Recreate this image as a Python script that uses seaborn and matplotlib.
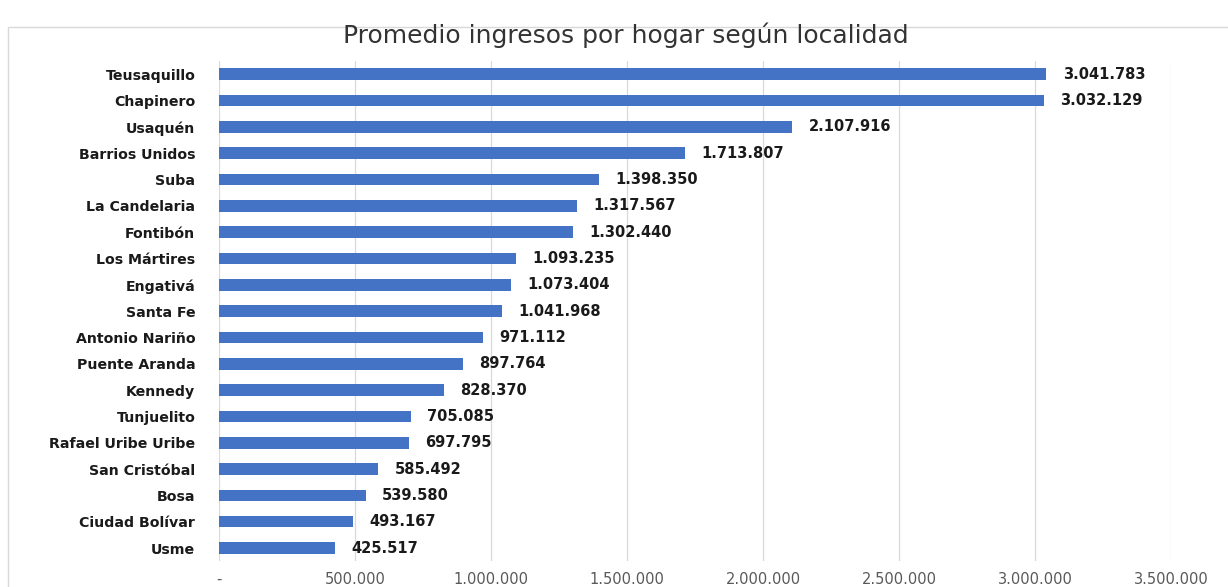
import matplotlib
matplotlib.use("Agg")
import matplotlib.pyplot as plt
import matplotlib.patches as mpatches
import seaborn as sns
import pandas as pd

localidades = ["Teusaquillo", "Chapinero", "Usaquén", "Barrios Unidos", "Suba",
               "La Candelaria", "Fontibón", "Los Mártires", "Engativá", "Santa Fe",
               "Antonio Nariño", "Puente Aranda", "Kennedy", "Tunjuelito",
               "Rafael Uribe Uribe", "San Cristóbal", "Bosa", "Ciudad Bolívar", "Usme"]
ingresos = [3041783, 3032129, 2107916, 1713807, 1398350, 1317567, 1302440,
            1093235, 1073404, 1041968, 971112, 897764, 828370, 705085, 697795,
            585492, 539580, 493167, 425517]
xticks = [0, 500000, 1000000, 1500000, 2000000, 2500000, 3000000, 3500000]
titulo = "Promedio ingresos por hogar según localidad"

def fmt(v):
    return "-" if v == 0 else f"{v:,.0f}".replace(",", ".")

df = pd.DataFrame({"localidad": localidades, "ingreso": ingresos})

sns.set_theme(style="white")
plt.rcParams["font.family"] = ["DejaVu Sans"]

fig = plt.figure(figsize=(12.28, 5.87), dpi=100)
ax = fig.add_axes([0.1783, 0.044, 0.7753, 0.852])

sns.barplot(data=df, x="ingreso", y="localidad", orient="h", color="#4472C4",
            saturation=1, width=0.44, linewidth=0, ax=ax, zorder=3)

ax.set_xlim(0, 3500000)
ax.set_ylim(18.5, -0.5)
ax.set_xticks(xticks)
ax.set_xticklabels([fmt(v) for v in xticks], fontsize=10.5, color="#595959")
ax.tick_params(axis="x", length=0, pad=8)
ax.tick_params(axis="y", length=0, pad=17)
for lbl in ax.get_yticklabels():
    lbl.set_fontweight("bold")
    lbl.set_fontsize(10.2)
    lbl.set_color("#1a1a1a")
ax.set_xlabel("")
ax.set_ylabel("")
ax.grid(axis="x", color="#D9D9D9", linewidth=0.9, zorder=0)
for s in ax.spines.values():
    s.set_visible(False)

for i, v in enumerate(ingresos):
    ax.text(v + 60000, i, fmt(v), va="center", ha="left", fontsize=10.5,
            fontweight="bold", color="#1a1a1a")

fig.text(0.51, 0.94, titulo, ha="center", va="center", fontsize=18,
         color="#333333")

border = mpatches.Rectangle((8 / 1228, -0.05), 1.1, 1 - 27 / 587 + 0.05,
                            transform=fig.transFigure, fill=False,
                            edgecolor="#D9D9D9", linewidth=1)
fig.patches.append(border)

fig.savefig("out.png", dpi=100)
